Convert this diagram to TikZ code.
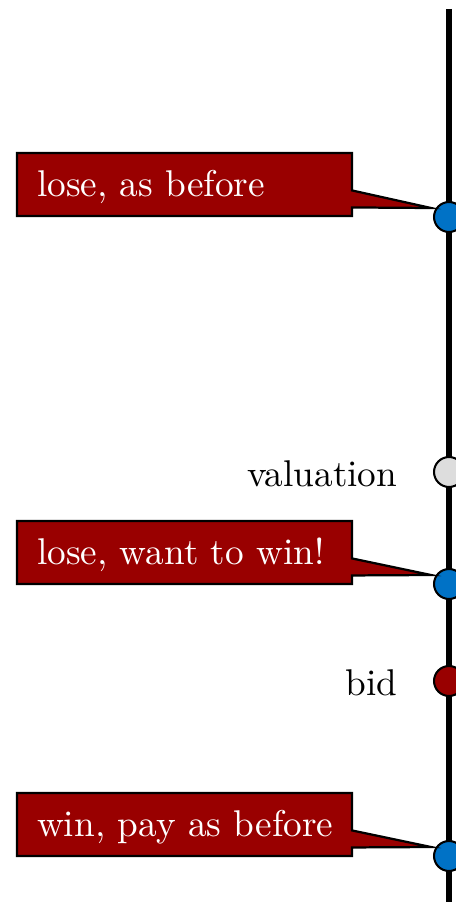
\documentclass[tikz,border=0pt]{standalone}
\usetikzlibrary{shapes.callouts,calc}
\definecolor{darkred}{RGB}{153,0,0}
\definecolor{dotblue}{RGB}{0,114,198}
\definecolor{dotgray}{RGB}{221,221,221}
\begin{document}
\begin{tikzpicture}[x=0.2686pt,y=-0.2686pt,
  font=\normalsize,
  dot/.style={circle,draw=black,line width=0.55pt,minimum size=8.05pt,inner sep=0pt},
  note/.style={rectangle callout,draw=black,line width=0.6pt,fill=darkred,text=white,
    minimum width=90pt,minimum height=16.9pt,text width=79.2pt,inner xsep=5.4pt,
    inner ysep=0pt,align=left,text height=8.5pt,text depth=1.95pt,
    callout pointer width=4.57pt},
  tag/.style={anchor=base east,inner sep=0pt}]
  \useasboundingbox (0,0) rectangle (456,902);
  \clip (0,0) rectangle (456,902);

  % the axis
  \coordinate (top) at (449,9);
  \coordinate (bottom) at (449,910);
  \draw[line width=1.75pt] (top) -- (bottom);

  % points on the axis
  \node[dot,fill=dotblue] (p1) at (449,217) {};
  \node[dot,fill=dotgray] (val) at (449,472) {};
  \node[dot,fill=dotblue] (p2) at (449,584) {};
  \node[dot,fill=darkred] (bidpt) at (449,681) {};
  \node[dot,fill=dotblue] (p3) at (449,856) {};

  % labels
  \node[tag] (vallab) at ($(val.west)+(-35,14)$) {valuation};
  \node[tag] (bidlab) at ($(bidpt.west)+(-35,14)$) {bid};

  % callouts
  \node[note,callout absolute pointer={($(p1.west)+(-2,-9)$)}] (c1) at (184.5,184.5) {\mbox{lose, as before}};
  \node[note,callout absolute pointer={($(p2.west)+(-2,-9)$)}] (c2) at (184.5,552.5) {\mbox{lose, want to win!}};
  \node[note,callout absolute pointer={($(p3.west)+(-2,-9)$)}] (c3) at (184.5,824.5) {\mbox{win, pay as before}};
\end{tikzpicture}
\end{document}
